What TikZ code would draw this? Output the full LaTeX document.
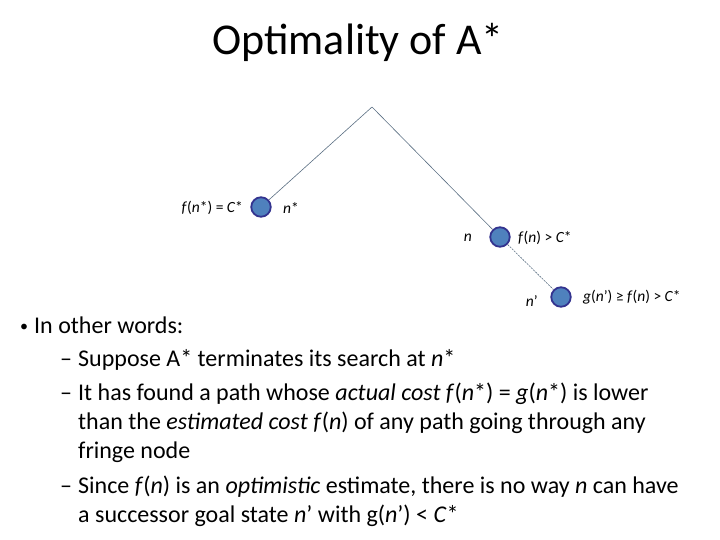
\documentclass[tikz,border=0pt]{standalone}
\usepackage{fontspec}
\setmainfont{Carlito}
\begin{document}
\begin{tikzpicture}[x=1pt, y=-1pt, thin,
    state/.style={circle, draw=blue!45!black!80, line width=1.8pt, fill={rgb,255:red,79;green,129;blue,189}, minimum size=19.5pt, inner sep=0pt},
    edge/.style={draw={rgb,255:red,90;green,110;blue,130}, line width=0.6pt},
    lbl/.style={font=\fontsize{15.5}{17}\selectfont, inner sep=0pt},
    txt/.style={font=\fontsize{24}{29}\selectfont, anchor=base west, inner sep=0pt}]
    \useasboundingbox (0,0) rectangle (720,540);
    \node[font=\fontsize{44}{48}\selectfont] (title) at (358,42) {Optimality of A*};
    % tree
    \coordinate (root) at (372,107);
    \node[state] (nstar) at (261,207) {};
    \node[state] (n) at (500,237) {};
    \node[state] (nprime) at (561,297) {};
    \draw[edge] (root) -- (nstar);
    \draw[edge] (root) -- (n);
    \draw[edge, dashed, dash pattern=on 2pt off 1pt] (n) -- (nprime);
    % labels
    \node[lbl, anchor=east] (fstar) at (243,208) {\itshape f\/\upshape(\itshape n\upshape*) = \itshape C\upshape*};
    \node[lbl, anchor=west] (nslbl) at (283,208) {\itshape n\upshape*};
    \node[lbl, anchor=east] (nlbl) at (472,238) {\itshape n};
    \node[lbl, anchor=west] (fn) at (518,238) {\itshape f\/\upshape(\itshape n\upshape) > \itshape C\upshape*};
    \node[lbl, anchor=east] (nplbl) at (538,301) {\itshape n\/\upshape'};
    \node[lbl, anchor=west] (gn) at (583,297) {\itshape g\upshape(\itshape n\/\upshape') ≥ \itshape f\/\upshape(\itshape n\upshape) > \itshape C\upshape*};
    % text
    \node[txt, font=\fontsize{16}{18}\selectfont] (b1) at (20,331) {•};
    \node[txt] (t1) at (34,333) {In other words:};
    \node[txt] (d1) at (60,366) {–};
    \node[txt] (t2) at (78,366) {Suppose A* terminates its search at \textit{n}*};
    \node[txt] (d2) at (60,400) {–};
    \node[txt] (t3) at (78,400) {It has found a path whose \textit{actual cost f}\/(\textit{n}*) = \textit{g}(\textit{n}*) is lower};
    \node[txt] (t3b) at (78,429) {than the \textit{estimated cost f}\/(\textit{n}) of any path going through any};
    \node[txt] (t3c) at (78,458) {fringe node};
    \node[txt] (d3) at (60,493) {–};
    \node[txt] (t4) at (78,493) {Since \textit{f}\/(\textit{n}) is an \textit{optimistic} estimate, there is no way \textit{n} can have};
    \node[txt] (t4b) at (78,522) {a successor goal state \textit{n}\/' with g(\textit{n}\/') < \textit{C}*};
\end{tikzpicture}
\end{document}
